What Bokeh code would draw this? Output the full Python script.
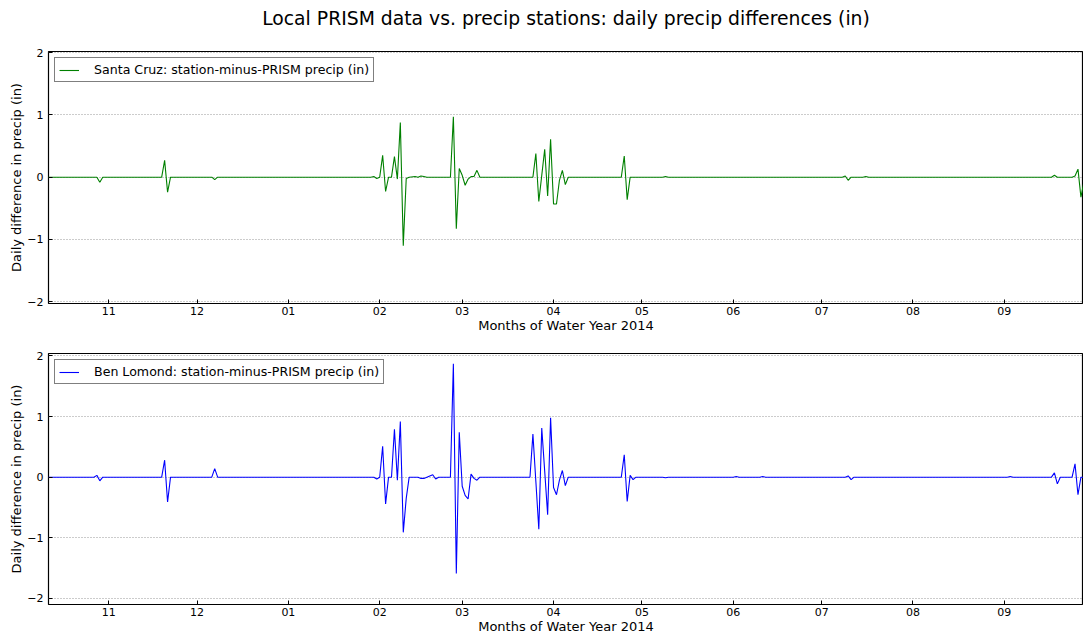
from datetime import datetime

import numpy as np
from bokeh.embed import file_html
from bokeh.layouts import column
from bokeh.models import DatetimeTickFormatter, FixedTicker, Range1d
from bokeh.plotting import figure
from bokeh.resources import INLINE

FONT = "DejaVu Sans"

TITLE = "Local PRISM data vs. precip stations: daily precip differences (in)"
X_LABEL = "Months of Water Year 2014"
Y_LABEL = "Daily difference in precip (in)"

# Santa Cruz: station minus PRISM daily precip (in); days not listed are zero
santa_cruz_dates = [
    "2013-10-01", "2013-10-28", "2013-10-29", "2013-10-30",
    "2013-11-19", "2013-11-20", "2013-11-21", "2013-11-22",
    "2013-12-06", "2013-12-07", "2013-12-08",
    "2014-01-29", "2014-01-30", "2014-01-31", "2014-02-01",
    "2014-02-02", "2014-02-03", "2014-02-04", "2014-02-05",
    "2014-02-06", "2014-02-07", "2014-02-08", "2014-02-09",
    "2014-02-10", "2014-02-11", "2014-02-13", "2014-02-14",
    "2014-02-15", "2014-02-16", "2014-02-17",
    "2014-02-25", "2014-02-26", "2014-02-27", "2014-02-28",
    "2014-03-01", "2014-03-02", "2014-03-03", "2014-03-04",
    "2014-03-05", "2014-03-06", "2014-03-07",
    "2014-03-25", "2014-03-26", "2014-03-27", "2014-03-28",
    "2014-03-29", "2014-03-30", "2014-03-31", "2014-04-01",
    "2014-04-02", "2014-04-03", "2014-04-04", "2014-04-05",
    "2014-04-06",
    "2014-04-24", "2014-04-25", "2014-04-26", "2014-04-27",
    "2014-05-08", "2014-05-09", "2014-05-10",
    "2014-07-08", "2014-07-09", "2014-07-10", "2014-07-11",
    "2014-07-15", "2014-07-16", "2014-07-17",
    "2014-09-17", "2014-09-18", "2014-09-19",
    "2014-09-24", "2014-09-25", "2014-09-26", "2014-09-27",
    "2014-09-28", "2014-09-29", "2014-09-30",
]
santa_cruz_diff = [
    0.0, 0.0, -0.08, 0.0,
    0.0, 0.27, -0.24, 0.0,
    0.0, -0.04, 0.0,
    0.0, 0.01, -0.02, 0.0,
    0.35, -0.23, 0.0, 0.0,
    0.33, -0.03, 0.88, -1.10,
    -0.02, 0.0, 0.01, 0.0,
    0.02, 0.01, 0.0,
    0.0, 0.97, -0.83, 0.14,
    0.03, -0.13, -0.03, 0.01,
    0.01, 0.11, 0.0,
    0.0, 0.38, -0.39, 0.03,
    0.45, -0.30, 0.61, -0.43,
    -0.43, -0.05, 0.11, -0.12,
    0.0,
    0.0, 0.34, -0.36, 0.0,
    0.0, 0.01, 0.0,
    0.0, 0.02, -0.05, 0.0,
    0.0, 0.01, 0.0,
    0.0, 0.03, 0.0,
    0.0, 0.02, 0.13, -0.32,
    -0.08, 0.0, 0.0,
]

# Ben Lomond: station minus PRISM daily precip (in); days not listed are zero
ben_lomond_dates = [
    "2013-10-01", "2013-10-27", "2013-10-28", "2013-10-29", "2013-10-30",
    "2013-11-19", "2013-11-20", "2013-11-21", "2013-11-22",
    "2013-12-06", "2013-12-07", "2013-12-08",
    "2014-01-30", "2014-01-31", "2014-02-01",
    "2014-02-02", "2014-02-03", "2014-02-04", "2014-02-05",
    "2014-02-06", "2014-02-07", "2014-02-08", "2014-02-09",
    "2014-02-10", "2014-02-11",
    "2014-02-14", "2014-02-15", "2014-02-16", "2014-02-17",
    "2014-02-18", "2014-02-19", "2014-02-20", "2014-02-21",
    "2014-02-25", "2014-02-26", "2014-02-27", "2014-02-28",
    "2014-03-01", "2014-03-02", "2014-03-03", "2014-03-04",
    "2014-03-05", "2014-03-06", "2014-03-07",
    "2014-03-24", "2014-03-25", "2014-03-26", "2014-03-27",
    "2014-03-28", "2014-03-29", "2014-03-30", "2014-03-31",
    "2014-04-01", "2014-04-02", "2014-04-03", "2014-04-04",
    "2014-04-05", "2014-04-06",
    "2014-04-24", "2014-04-25", "2014-04-26", "2014-04-27",
    "2014-04-28", "2014-04-29",
    "2014-05-08", "2014-05-09", "2014-05-10",
    "2014-06-01", "2014-06-02", "2014-06-03",
    "2014-06-10", "2014-06-11", "2014-06-12",
    "2014-07-09", "2014-07-10", "2014-07-11", "2014-07-12",
    "2014-09-02", "2014-09-03", "2014-09-04",
    "2014-09-17", "2014-09-18", "2014-09-19", "2014-09-20",
    "2014-09-24", "2014-09-25", "2014-09-26", "2014-09-27",
    "2014-09-30",
]
ben_lomond_diff = [
    0.0, 0.0, 0.03, -0.06, 0.0,
    0.0, 0.28, -0.41, 0.0,
    0.0, 0.14, 0.0,
    0.0, -0.03, 0.0,
    0.51, -0.44, 0.0, 0.0,
    0.79, -0.05, 0.92, -0.91,
    -0.35, 0.0,
    0.0, -0.02, -0.02, 0.0,
    0.02, 0.04, -0.03, 0.0,
    0.0, 1.87, -1.59, 0.74,
    -0.15, -0.30, -0.36, 0.05,
    -0.02, -0.05, 0.0,
    0.0, 0.71, -0.07, -0.86,
    0.81, 0.10, -0.62, 0.98,
    -0.17, -0.29, -0.05, 0.11,
    -0.14, 0.0,
    0.0, 0.37, -0.40, 0.03,
    -0.04, 0.0,
    0.0, -0.01, 0.0,
    0.0, 0.01, 0.0,
    0.0, 0.01, 0.0,
    0.0, 0.02, -0.04, 0.0,
    0.0, 0.01, 0.0,
    0.0, 0.07, -0.11, 0.0,
    0.0, 0.22, -0.29, 0.0,
    0.0,
]

# month ticks of the water year and the value ticks
month_ticks = [
    "2013-11-01", "2013-12-01", "2014-01-01", "2014-02-01", "2014-03-01",
    "2014-04-01", "2014-05-01", "2014-06-01", "2014-07-01", "2014-08-01",
    "2014-09-01",
]
y_ticks = [-2, -1, 0, 1, 2]
y_tick_labels = ["\u22122", "\u22121", "0", "1", "2"]

panels = [
    dict(name="Santa Cruz", dates=santa_cruz_dates, values=santa_cruz_diff,
         color="#008000", y_range=(-2.03, 2.02)),
    dict(name="Ben Lomond", dates=ben_lomond_dates, values=ben_lomond_diff,
         color="#0000ff", y_range=(-2.10, 2.04)),
]

X_START = datetime(2013, 10, 11, 14)
X_END = datetime(2014, 9, 27, 21)


def to_ms(strings):
    return (np.array(strings, dtype="datetime64[D]")
            .astype("datetime64[ms]").astype(np.int64).astype(float).tolist())


tick_ms = to_ms(month_ticks)
month_fmt = DatetimeTickFormatter(
    days="%m", months="%m", years="%m", hours="%m", hourmin="%m",
)


def make_title_strip(height):
    # a bare strip above the panels that only carries the figure title
    t = figure(
        width=1083, height=height, x_axis_location=None, y_axis_location=None,
        x_range=Range1d(0, 1), y_range=Range1d(0, 1),
        output_backend="svg", toolbar_location=None,
        min_border_left=48, min_border_right=0,
        min_border_top=32, min_border_bottom=0,
        background_fill_color="white", border_fill_color="white",
    )
    t.outline_line_color = None
    t.grid.visible = False
    t.title.text = TITLE
    t.title.align = "center"
    t.title.vertical_align = "bottom"
    t.title.text_font = FONT
    t.title.text_font_size = "18.8px"
    t.title.text_font_style = "normal"
    t.title.text_color = "black"
    t.title.standoff = 7
    return t


def make_panel(cfg, height, top, bottom):
    p = figure(
        width=1083, height=height, x_axis_type="datetime",
        x_range=Range1d(X_START, X_END), y_range=Range1d(*cfg["y_range"]),
        output_backend="svg", toolbar_location=None,
        min_border_left=48, min_border_right=0,
        min_border_top=top, min_border_bottom=bottom,
        background_fill_color="white", border_fill_color="white",
    )
    p.outline_line_color = "black"
    p.outline_line_width = 1.2

    dates = np.array(cfg["dates"], dtype="datetime64[D]")
    p.line(dates, cfg["values"], line_color=cfg["color"], line_width=1.1,
           legend_label=f"{cfg['name']}: station-minus-PRISM precip (in)")

    ax = p.xaxis[0]
    ax.ticker = FixedTicker(ticks=tick_ms)
    ax.formatter = month_fmt
    ax.axis_line_color = None
    ax.major_tick_in = 4
    ax.major_tick_out = 0
    ax.minor_tick_line_color = None
    ax.major_tick_line_color = "black"
    ax.major_label_text_font = FONT
    ax.major_label_text_font_size = "11px"
    ax.major_label_text_color = "black"
    ax.major_label_standoff = 3
    ax.axis_label = X_LABEL
    ax.axis_label_text_font = FONT
    ax.axis_label_text_font_size = "13px"
    ax.axis_label_text_font_style = "normal"
    ax.axis_label_text_color = "black"
    ax.axis_label_standoff = 0

    ay = p.yaxis[0]
    ay.ticker = FixedTicker(ticks=y_ticks)
    ay.major_label_overrides = dict(zip(y_ticks, y_tick_labels))
    ay.axis_line_color = None
    ay.major_tick_in = 4
    ay.major_tick_out = 0
    ay.minor_tick_line_color = None
    ay.major_tick_line_color = "black"
    ay.major_label_text_font = FONT
    ay.major_label_text_font_size = "11px"
    ay.major_label_text_color = "black"
    ay.major_label_standoff = 5
    ay.axis_label = Y_LABEL
    ay.axis_label_text_font = FONT
    ay.axis_label_text_font_size = "13px"
    ay.axis_label_text_font_style = "normal"
    ay.axis_label_text_color = "black"
    ay.axis_label_standoff = 0

    p.xgrid.visible = False
    p.ygrid.ticker = FixedTicker(ticks=y_ticks)
    p.ygrid.grid_line_color = "#999999"
    p.ygrid.grid_line_dash = "1 2"
    p.ygrid.grid_line_width = 1

    lg = p.legend[0]
    lg.location = "top_left"
    lg.margin = 6
    lg.padding = 4
    lg.spacing = 0
    lg.border_line_color = "black"
    lg.border_line_width = 1
    lg.background_fill_color = "white"
    lg.background_fill_alpha = 1
    lg.label_text_font = FONT
    lg.label_text_font_size = "12.6px"
    lg.label_text_color = "black"
    lg.glyph_width = 20
    lg.glyph_height = 12
    lg.label_height = 12
    lg.label_standoff = 15
    return p


p_title = make_title_strip(height=40)
p_top = make_panel(panels[0], height=298, top=11, bottom=35)
p_bottom = make_panel(panels[1], height=300, top=15, bottom=34)

layout = column(p_title, p_top, p_bottom, spacing=0)
layout.margin = 0

open("out.html", "w").write(file_html(layout, INLINE))
